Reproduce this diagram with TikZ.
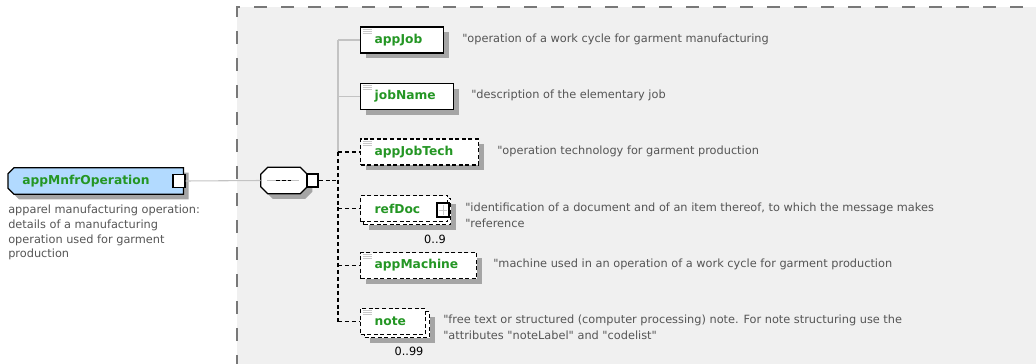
\documentclass[tikz,border=0pt]{standalone}
\usepackage{fontspec}
\setmainfont{DejaVu Sans}[Ligatures=TeXOff]
\usetikzlibrary{shadows}
\definecolor{lblgreen}{RGB}{36,150,36}
\definecolor{desccol}{RGB}{85,85,85}
\definecolor{shad}{RGB}{165,165,165}
\definecolor{conncol}{RGB}{195,195,195}
\definecolor{boxbg}{RGB}{240,240,240}
\definecolor{rootfill}{RGB}{178,218,255}
\definecolor{outerdash}{RGB}{120,120,120}
\definecolor{iconcol}{RGB}{200,200,200}
\pgfdeclarelayer{back}
\pgfdeclarelayer{bg}
\pgfsetlayers{back,bg,main}
\begin{document}
\begin{tikzpicture}[x=0.75pt,y=-0.75pt,
  lbl/.style={font=\fontsize{9.2}{11}\selectfont\bfseries, text=lblgreen},
  elem/.style={lbl, draw=black, fill=white, line width=1pt, minimum height=19.5pt,
    inner xsep=10.5pt, inner ysep=0pt, align=left, anchor=west},
  shadowed/.style={drop shadow={shadow xshift=3.75pt, shadow yshift=-3.75pt, fill=shad, opacity=1}},
  mandbox/.style={elem, shadowed},
  optbox/.style={elem, dash pattern=on 3pt off 1.9pt},
  desc/.style={font=\fontsize{8.5}{12}\selectfont, text=desccol, anchor=west, inner sep=0pt, align=left},
  card/.style={font=\fontsize{8.5}{10}\selectfont, text=black, inner sep=0pt},
  mandline/.style={draw=conncol, line width=0.8pt},
  optline/.style={draw=black, line width=0.8pt, dash pattern=on 3pt off 2.2pt},
  iconline/.style={draw=iconcol, line width=0.6pt},
  smallsq/.style={draw=black, fill=white, line width=0.9pt, inner sep=0pt}
]
\useasboundingbox (0,0) rectangle (1036,364);
% group region
\begin{pgfonlayer}{back}
\fill[boxbg] (237,7) rectangle (1040,368);
\draw[outerdash, line width=1pt, dash pattern=on 9.75pt off 10.5pt] (237,368) -- (237,7) -- (1040,7);
\end{pgfonlayer}

% root element
\node[lbl, anchor=west, text width=110.25pt, inner xsep=10.5pt, inner ysep=0pt, minimum height=19.5pt, align=left] (root) at (8,181) {appMnfrOperation};
\begin{pgfonlayer}{bg}
\draw[fill=rootfill, line width=1pt, shadowed]
  ([xshift=4.5pt]root.north west) -- (root.north east) -- (root.south east)
  -- ([xshift=4.5pt]root.south west) -- ([yshift=4.5pt]root.south west)
  -- ([yshift=-4.5pt]root.north west) -- cycle;
\end{pgfonlayer}
\node[smallsq, minimum width=9pt, minimum height=9.75pt] (rootsq) at (179,181) {};
\node[desc, anchor=north west, font=\fontsize{8.5}{10.95}\selectfont] (rootdesc) at (8,205)
  {apparel manufacturing operation:\\details of a manufacturing\\operation used for garment\\production};

% sequence compositor
\node[minimum width=34.5pt, minimum height=19.5pt, inner sep=0pt] (seq) at (284,180.5) {};
\begin{pgfonlayer}{bg}
\draw[fill=white, line width=1pt, shadowed]
  ([xshift=5.25pt]seq.north west) -- ([xshift=-5.25pt]seq.north east)
  -- ([yshift=-5.25pt]seq.north east) -- ([yshift=5.25pt]seq.south east)
  -- ([xshift=-5.25pt]seq.south east) -- ([xshift=5.25pt]seq.south west)
  -- ([yshift=5.25pt]seq.south west) -- ([yshift=-5.25pt]seq.north west) -- cycle;
\end{pgfonlayer}
\draw[draw=conncol, line width=0.6pt] ([xshift=5pt]seq.west) -- ([xshift=-6pt]seq.east);
\draw[black, line width=1.3pt, dash pattern=on 3pt off 1.5pt] ([xshift=11.2pt]seq.west) -- ([xshift=22.7pt]seq.west);
\node[smallsq, minimum width=8.25pt, minimum height=9.75pt] (seqsq) at (312.5,180.5) {};

% children
\node[mandbox, text width=41.25pt] (appJob) at (360,40) {appJob};
\node[mandbox, text width=48.75pt] (jobName) at (360,96.5) {jobName};
\node[optbox, shadowed, text width=67.5pt] (appJobTech) at (360,152) {appJobTech};
\node[optbox, shadowed, text width=44.25pt] (refDocB) at (363,211.5) {\phantom{refDoc}};
\node[optbox, text width=44.25pt] (refDoc) at (360,208.5) {refDoc};
\node[smallsq, minimum width=9pt, minimum height=10.5pt] (refDocP) at (443,210) {};
\draw[iconcol, line width=0.7pt] ([xshift=-3pt]refDocP.center) -- ([xshift=3pt]refDocP.center)
  ([yshift=-3.5pt]refDocP.center) -- ([yshift=3.5pt]refDocP.center);
\node[optbox, shadowed, text width=66pt] (appMachine) at (360,265.5) {appMachine};
\node[optbox, shadowed, text width=27.75pt] (noteB) at (364,324.5) {\phantom{note}};
\node[optbox, text width=27.75pt] (note) at (360,321.5) {note};

\foreach \n in {appJob,jobName,appJobTech,appMachine,note}
  \foreach \d in {2.0,3.5,5.0}
    \draw[iconline] ([xshift=2pt,yshift=-\d pt]\n.north west) -- ++(9,0);

\node[card] (card1) at (435,239.5) {0..9};
\node[card] (card2) at (409,351) {0..99};

% connectors
\coordinate (trunk) at (338,0);
\draw[mandline] (rootsq.east) -- (seq.west);
\draw[optline] (seqsq.east) -- (seqsq.east -| trunk);
\draw[mandline] (appJob.west -| trunk) -- (appJobTech.west -| trunk);
\draw[optline] (appJobTech.west -| trunk) -- (note.west -| trunk);
\draw[mandline] (appJob.west -| trunk) -- (appJob.west);
\draw[mandline] (jobName.west -| trunk) -- (jobName.west);
\draw[optline] (appJobTech.west -| trunk) -- (appJobTech.west);
\draw[optline] (refDoc.west -| trunk) -- (refDoc.west);
\draw[optline] (appMachine.west -| trunk) -- (appMachine.west);
\draw[optline] (note.west -| trunk) -- (note.west);

% descriptions
\node[desc] (dAppJob) at (462,39) {"operation of a work cycle for garment manufacturing};
\node[desc] (dJobName) at (471,95) {"description of the elementary job};
\node[desc] (dAppJobTech) at (497,151) {"operation technology for garment production};
\node[desc] (dRefDoc) at (465,215) {"identification of a document and of an item thereof, to which the message makes\\"reference};
\node[desc] (dAppMachine) at (493,264) {"machine used in an operation of a work cycle for garment production};
\node[desc] (dNote) at (443,327) {"free text or structured (computer processing) note. For note structuring use the\\"attributes "noteLabel" and "codelist"};
\end{tikzpicture}
\end{document}
